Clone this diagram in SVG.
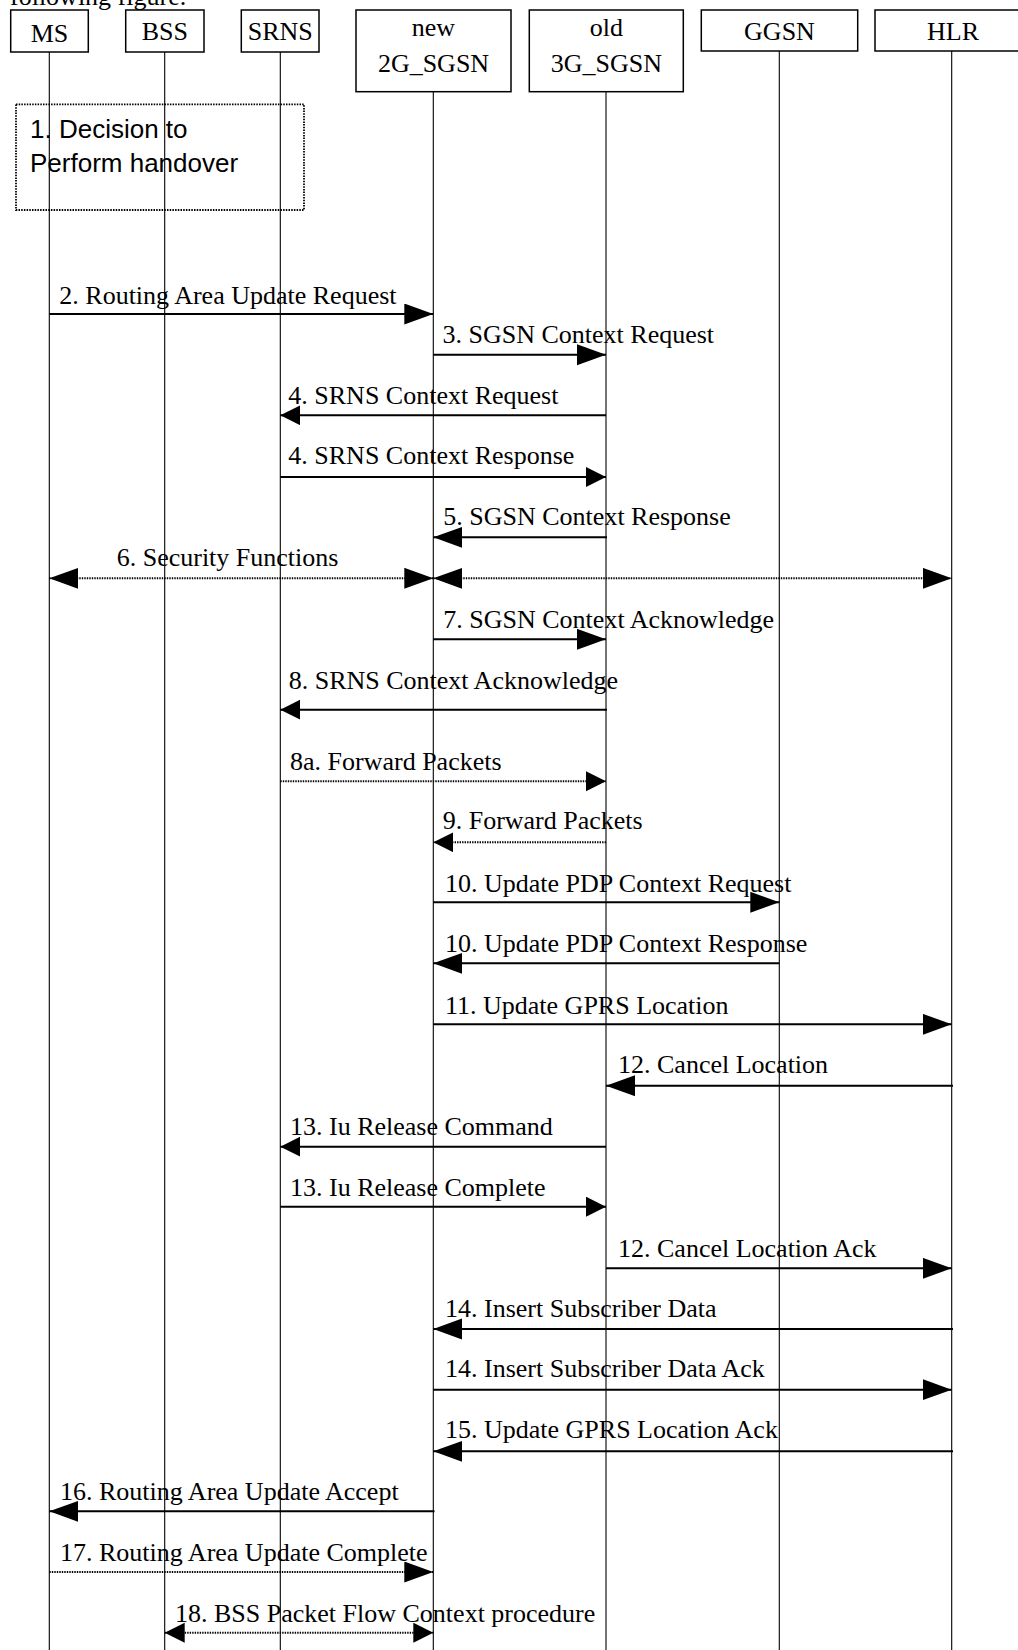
<svg xmlns="http://www.w3.org/2000/svg" width="1018" height="1650" viewBox="0 0 1018 1650">
<style>
  .box { fill: #fff; stroke: #000; stroke-width: 1.5; }
  .life { stroke: #000; stroke-width: 1.1; fill: none; }
  .msg { stroke: #000; stroke-width: 2; fill: none; }
  .dot { stroke: #000; stroke-width: 2; fill: none; stroke-dasharray: 1.4 1.1; }
  .t { font-family: "Liberation Serif", "Times New Roman", serif; font-size: 26px; fill: #000; }
  .c { text-anchor: middle; }
  .note { fill: none; stroke: #000; stroke-width: 1.8; stroke-dasharray: 1.5 1.2; }
  .ns { font-family: "Liberation Sans", Arial, sans-serif; font-size: 26px; fill: #000; }
</style>
<defs>
  <marker id="ab" markerUnits="userSpaceOnUse" markerWidth="30" markerHeight="22" refX="29" refY="10.5" orient="auto-start-reverse">
    <path d="M0,0 L29,10.5 L0,21 z" fill="#000"/>
  </marker>
  <marker id="as" markerUnits="userSpaceOnUse" markerWidth="21" markerHeight="21" refX="20" refY="10" orient="auto-start-reverse">
    <path d="M0,0 L20,10 L0,20 z" fill="#000"/>
  </marker>
</defs>
<rect width="1018" height="1650" fill="#fff"/>
<text class="t" x="10" y="5">following figure.</text>

<g id="lifelines">
  <line class="life" x1="49.3" y1="52" x2="49.3" y2="1650"/>
  <line class="life" x1="164.7" y1="52" x2="164.7" y2="1650"/>
  <line class="life" x1="280.3" y1="52" x2="280.3" y2="1650"/>
  <line class="life" x1="433.3" y1="91.7" x2="433.3" y2="1650"/>
  <line class="life" x1="606" y1="91.7" x2="606" y2="1650"/>
  <line class="life" x1="779.3" y1="51" x2="779.3" y2="1650"/>
  <line class="life" x1="951.7" y1="51" x2="951.7" y2="1650"/>
</g>

<g id="node-MS">
  <rect class="box" x="10.7" y="10" width="77.6" height="42"/>
  <text class="t c" x="49.5" y="41.5">MS</text>
</g>
<g id="node-BSS">
  <rect class="box" x="125.7" y="10" width="78.3" height="42"/>
  <text class="t c" x="164.8" y="40">BSS</text>
</g>
<g id="node-SRNS">
  <rect class="box" x="241.3" y="10" width="77.7" height="42"/>
  <text class="t c" x="280.2" y="40">SRNS</text>
</g>
<g id="node-new2GSGSN">
  <rect class="box" x="356" y="10" width="155" height="81.7"/>
  <text class="t c" x="433.5" y="35.5">new</text>
  <text class="t c" x="433.5" y="71.7">2G_SGSN</text>
</g>
<g id="node-old3GSGSN">
  <rect class="box" x="529.3" y="10" width="154" height="81.7"/>
  <text class="t c" x="606.3" y="35.5">old</text>
  <text class="t c" x="606.3" y="71.7">3G_SGSN</text>
</g>
<g id="node-GGSN">
  <rect class="box" x="701.3" y="10" width="156.4" height="41"/>
  <text class="t c" x="779.5" y="40">GGSN</text>
</g>
<g id="node-HLR">
  <rect class="box" x="875" y="10" width="160" height="41"/>
  <text class="t c" x="953" y="40">HLR</text>
</g>

<g id="note-1">
  <rect class="note" x="16" y="104.3" width="288" height="105.7"/>
  <text class="ns" x="30" y="138.3">1. Decision to</text>
  <text class="ns" x="30" y="171.7">Perform handover</text>
</g>

<g id="connectors">
  <line class="msg" x1="49.3" y1="314" x2="433.3" y2="314" marker-end="url(#ab)"/>
  <line class="msg" x1="433.3" y1="354.7" x2="606" y2="354.7" marker-end="url(#ab)"/>
  <line class="msg" x1="606" y1="415.3" x2="280.3" y2="415.3" marker-end="url(#as)"/>
  <line class="msg" x1="280.3" y1="477" x2="606" y2="477" marker-end="url(#as)"/>
  <line class="msg" x1="607" y1="537.3" x2="433.3" y2="537.3" marker-end="url(#ab)"/>
  <line class="dot" x1="49.3" y1="578.3" x2="433.3" y2="578.3" marker-start="url(#ab)" marker-end="url(#ab)"/>
  <line class="dot" x1="433.3" y1="578.3" x2="951.7" y2="578.3" marker-start="url(#ab)" marker-end="url(#ab)"/>
  <line class="msg" x1="433.3" y1="639.3" x2="606" y2="639.3" marker-end="url(#ab)"/>
  <line class="msg" x1="607" y1="709.7" x2="280.3" y2="709.7" marker-end="url(#as)"/>
  <line class="dot" x1="280.3" y1="781.3" x2="606" y2="781.3" marker-end="url(#as)"/>
  <line class="dot" x1="606" y1="842.3" x2="433.3" y2="842.3" marker-end="url(#as)"/>
  <line class="msg" x1="433.3" y1="902.3" x2="779.3" y2="902.3" marker-end="url(#ab)"/>
  <line class="msg" x1="779.3" y1="963.3" x2="433.3" y2="963.3" marker-end="url(#ab)"/>
  <line class="msg" x1="433.3" y1="1024.3" x2="951.7" y2="1024.3" marker-end="url(#ab)"/>
  <line class="msg" x1="953" y1="1085.7" x2="606" y2="1085.7" marker-end="url(#ab)"/>
  <line class="msg" x1="606" y1="1146.7" x2="280.3" y2="1146.7" marker-end="url(#as)"/>
  <line class="msg" x1="280.3" y1="1206.7" x2="606" y2="1206.7" marker-end="url(#as)"/>
  <line class="msg" x1="606" y1="1268.3" x2="951.7" y2="1268.3" marker-end="url(#ab)"/>
  <line class="msg" x1="953" y1="1329" x2="433.3" y2="1329" marker-end="url(#ab)"/>
  <line class="msg" x1="433.3" y1="1389.7" x2="951.7" y2="1389.7" marker-end="url(#ab)"/>
  <line class="msg" x1="953" y1="1451.3" x2="433.3" y2="1451.3" marker-end="url(#ab)"/>
  <line class="msg" x1="434.5" y1="1511.3" x2="49.3" y2="1511.3" marker-end="url(#ab)"/>
  <line class="dot" x1="49.3" y1="1572" x2="433.3" y2="1572" marker-end="url(#ab)"/>
  <line class="dot" x1="164.7" y1="1632.7" x2="433.3" y2="1632.7" marker-start="url(#as)" marker-end="url(#as)"/>
</g>

<g id="labels">
  <text class="t" x="59.3" y="304.3">2. Routing Area Update Request</text>
  <text class="t" x="442.5" y="343.3">3. SGSN Context Request</text>
  <text class="t" x="288.3" y="404">4. SRNS Context Request</text>
  <text class="t" x="288.3" y="464">4. SRNS Context Response</text>
  <text class="t" x="443.3" y="525">5. SGSN Context Response</text>
  <text class="t" x="116.7" y="566">6. Security Functions</text>
  <text class="t" x="443.3" y="627.7">7. SGSN Context Acknowledge</text>
  <text class="t" x="288.7" y="689">8. SRNS Context Acknowledge</text>
  <text class="t" x="290" y="770">8a. Forward Packets</text>
  <text class="t" x="442.7" y="829.3">9. Forward Packets</text>
  <text class="t" x="445" y="891.7">10. Update PDP Context Request</text>
  <text class="t" x="445" y="952.3">10. Update PDP Context Response</text>
  <text class="t" x="445" y="1014">11. Update GPRS Location</text>
  <text class="t" x="618" y="1073.3">12. Cancel Location</text>
  <text class="t" x="290" y="1135">13. Iu Release Command</text>
  <text class="t" x="290" y="1195.7">13. Iu Release Complete</text>
  <text class="t" x="618" y="1256.7">12. Cancel Location Ack</text>
  <text class="t" x="445" y="1316.7">14. Insert Subscriber Data</text>
  <text class="t" x="445" y="1377.3">14. Insert Subscriber Data Ack</text>
  <text class="t" x="445" y="1438.3">15. Update GPRS Location Ack</text>
  <text class="t" x="60" y="1500">16. Routing Area Update Accept</text>
  <text class="t" x="60" y="1561">17. Routing Area Update Complete</text>
  <text class="t" x="175" y="1621.7">18. BSS Packet Flow Context procedure</text>
</g>
</svg>
